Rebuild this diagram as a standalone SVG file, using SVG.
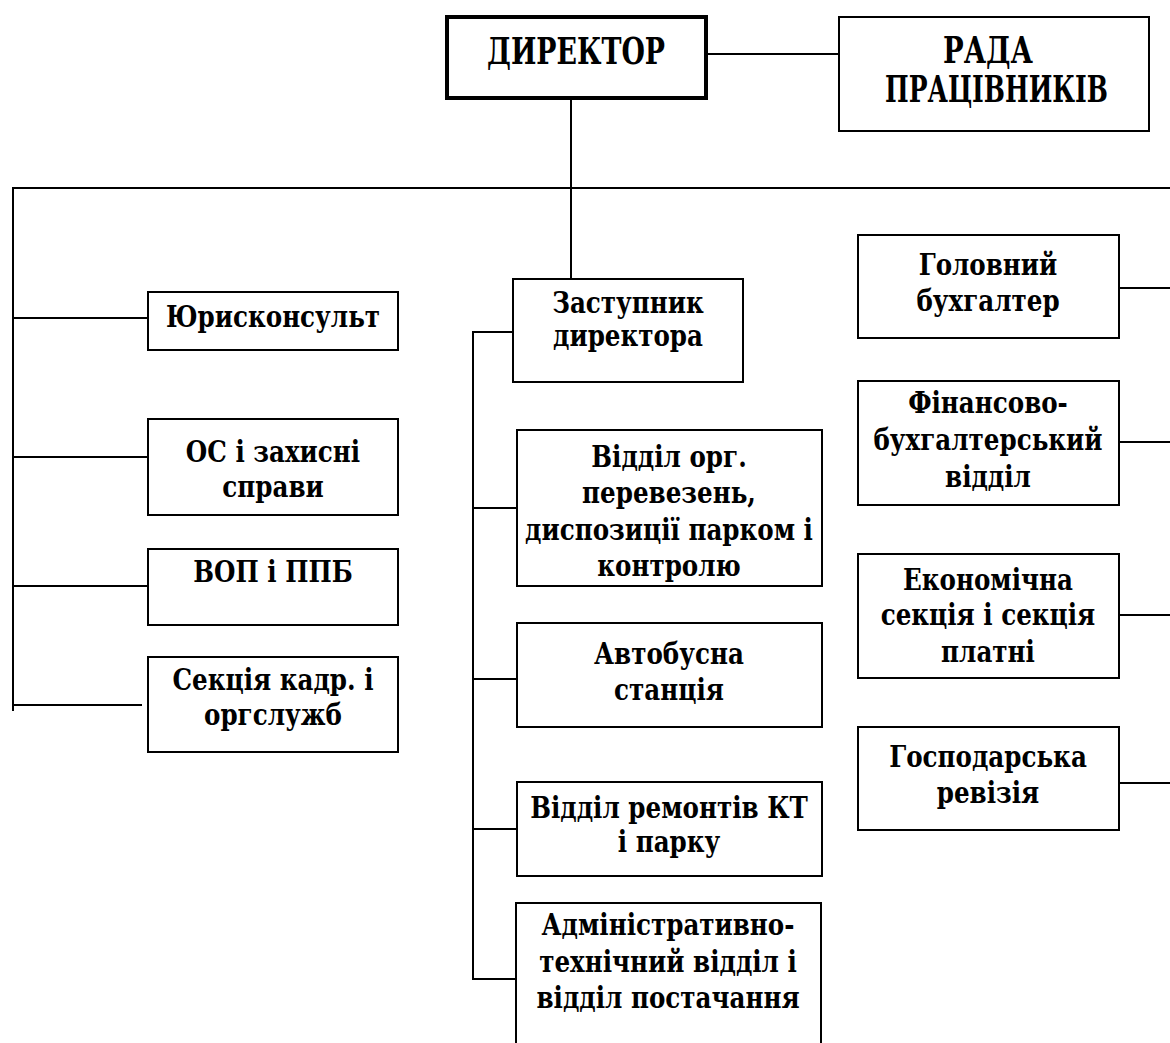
<svg xmlns="http://www.w3.org/2000/svg" width="1170" height="1043" viewBox="0 0 1170 1043">
<style>
.box{fill:#fff;stroke:#000;stroke-width:2}
.boxb{fill:#fff;stroke:#000;stroke-width:4}
.ln{stroke:#000;stroke-width:2;fill:none}
.t{font-family:'DejaVu Serif','Liberation Serif',serif;font-weight:700;font-size:30px;fill:#000;text-anchor:middle}
.cap{font-size:38px;text-anchor:start}
</style>
<rect width="1170" height="1043" fill="#fff"/>
<g id="connectors">
<line class="ln" x1="707" y1="54" x2="838" y2="54"/>
<line class="ln" x1="571" y1="99" x2="571" y2="279"/>
<line class="ln" x1="12" y1="188" x2="1170" y2="188"/>
<line class="ln" x1="13" y1="187" x2="13" y2="711"/>
<line class="ln" x1="13" y1="318" x2="148" y2="318"/>
<line class="ln" x1="13" y1="457" x2="148" y2="457"/>
<line class="ln" x1="13" y1="586" x2="148" y2="586"/>
<line class="ln" x1="13" y1="705" x2="142" y2="705"/>
<line class="ln" x1="473" y1="332" x2="515" y2="332"/>
<line class="ln" x1="473" y1="331" x2="473" y2="980"/>
<line class="ln" x1="473" y1="508" x2="517" y2="508"/>
<line class="ln" x1="473" y1="679" x2="517" y2="679"/>
<line class="ln" x1="473" y1="829" x2="517" y2="829"/>
<line class="ln" x1="473" y1="979" x2="516" y2="979"/>
<line class="ln" x1="1119" y1="288" x2="1170" y2="288"/>
<line class="ln" x1="1119" y1="442" x2="1170" y2="442"/>
<line class="ln" x1="1119" y1="615" x2="1170" y2="615"/>
<line class="ln" x1="1119" y1="783" x2="1170" y2="783"/>
</g>
<g id="director">
<rect class="boxb" x="447" y="17" width="259" height="81"/>
<text class="t cap" x="487" y="64" textLength="178" lengthAdjust="spacingAndGlyphs">ДИРЕКТОР</text>
</g>
<g id="rada">
<rect class="box" x="839" y="17" width="310" height="114"/>
<text class="t cap" x="943" y="63" textLength="90" lengthAdjust="spacingAndGlyphs">РАДА</text>
<text class="t cap" x="885" y="102" textLength="223" lengthAdjust="spacingAndGlyphs">ПРАЦІВНИКІВ</text>
</g>
<g id="jurist">
<rect class="box" x="148" y="292" width="250" height="58"/>
<text class="t" transform="translate(273 327) scale(0.82 1)">Юрисконсульт</text>
</g>
<g id="os">
<rect class="box" x="148" y="419" width="250" height="96"/>
<text class="t" transform="translate(273 462) scale(0.82 1)">ОС і захисні</text>
<text class="t" transform="translate(273 497) scale(0.82 1)">справи</text>
</g>
<g id="vop">
<rect class="box" x="148" y="549" width="250" height="76"/>
<text class="t" transform="translate(273 582) scale(0.82 1)">ВОП і ППБ</text>
</g>
<g id="kadr">
<rect class="box" x="148" y="657" width="250" height="95"/>
<text class="t" transform="translate(273 690) scale(0.82 1)">Секція кадр. і</text>
<text class="t" transform="translate(273 725) scale(0.82 1)">оргслужб</text>
</g>
<g id="zastupnyk">
<rect class="box" x="513" y="279" width="230" height="103"/>
<text class="t" transform="translate(628 313) scale(0.82 1)">Заступник</text>
<text class="t" transform="translate(628 346) scale(0.82 1)">директора</text>
</g>
<g id="perevezen">
<rect class="box" x="517" y="430" width="305" height="156"/>
<text class="t" transform="translate(669 467) scale(0.82 1)">Відділ орг.</text>
<text class="t" transform="translate(669 503) scale(0.82 1)">перевезень,</text>
<text class="t" transform="translate(669 540) scale(0.82 1)">диспозиції парком і</text>
<text class="t" transform="translate(669 576) scale(0.82 1)">контролю</text>
</g>
<g id="avtobus">
<rect class="box" x="517" y="623" width="305" height="104"/>
<text class="t" transform="translate(669 664) scale(0.82 1)">Автобусна</text>
<text class="t" transform="translate(669 700) scale(0.82 1)">станція</text>
</g>
<g id="remont">
<rect class="box" x="517" y="782" width="305" height="94"/>
<text class="t" transform="translate(669 818) scale(0.82 1)">Відділ ремонтів КТ</text>
<text class="t" transform="translate(669 852) scale(0.82 1)">і парку</text>
</g>
<g id="admin">
<rect class="box" x="516" y="903" width="305" height="160"/>
<text class="t" transform="translate(668 935) scale(0.82 1)">Адміністративно-</text>
<text class="t" transform="translate(668 972) scale(0.82 1)">технічний відділ і</text>
<text class="t" transform="translate(668 1008) scale(0.82 1)">відділ постачання</text>
</g>
<g id="buh">
<rect class="box" x="858" y="235" width="261" height="103"/>
<text class="t" transform="translate(988 275) scale(0.82 1)">Головний</text>
<text class="t" transform="translate(988 311) scale(0.82 1)">бухгалтер</text>
</g>
<g id="fin">
<rect class="box" x="858" y="381" width="261" height="124"/>
<text class="t" transform="translate(988 413) scale(0.82 1)">Фінансово-</text>
<text class="t" transform="translate(988 450) scale(0.82 1)">бухгалтерський</text>
<text class="t" transform="translate(988 487) scale(0.82 1)">відділ</text>
</g>
<g id="econ">
<rect class="box" x="858" y="554" width="261" height="124"/>
<text class="t" transform="translate(988 590) scale(0.82 1)">Економічна</text>
<text class="t" transform="translate(988 625) scale(0.82 1)">секція і секція</text>
<text class="t" transform="translate(988 662) scale(0.82 1)">платні</text>
</g>
<g id="revizia">
<rect class="box" x="858" y="727" width="261" height="103"/>
<text class="t" transform="translate(988 767) scale(0.82 1)">Господарська</text>
<text class="t" transform="translate(988 803) scale(0.82 1)">ревізія</text>
</g>
</svg>
